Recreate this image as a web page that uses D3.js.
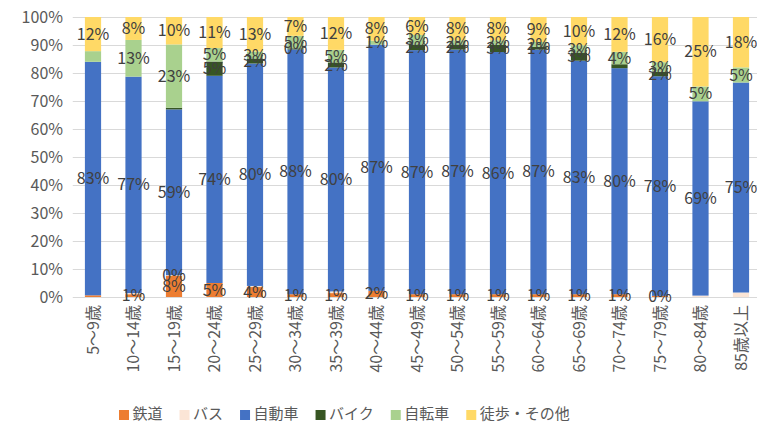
<!DOCTYPE html>
<html>
<head>
<meta charset="utf-8">
<script src="https://cdn.jsdelivr.net/npm/d3@7"></script>
<style>
  body { margin: 0; background: #fff; }
  text { font-family: "Noto Sans CJK JP", sans-serif; }
</style>
</head>
<body>
<div id="chart"></div>
<script>
// age groups
var categories = ["5～9歳", "10～14歳", "15～19歳", "20～24歳", "25～29歳", "30～34歳",
  "35～39歳", "40～44歳", "45～49歳", "50～54歳", "55～59歳", "60～64歳",
  "65～69歳", "70～74歳", "75～79歳", "80～84歳", "85歳以上"];

var seriesNames = ["鉄道", "バス", "自動車", "バイク", "自転車", "徒歩・その他"];

// shares (%)
var rail    = [0.6, 1, 7.6, 5, 3.6, 1, 1.4, 2.2, 1, 1, 1, 1, 1, 1, 0.4, 0, 0];
var bus     = [0, 0.4, 0.2, 0, 0.4, 0, 0.6, 0, 0, 0, 0, 0, 0, 0, 0, 0.5, 1.6];
var car     = [83.4, 77.3, 59.2, 74, 80.4, 88.4, 80.4, 87.3, 87, 87.2, 86.4, 87.2, 83.4, 80.4, 78.2, 69.4, 75];
var bike    = [0, 0, 0.6, 5.1, 1.8, 0.4, 1.8, 0, 2, 1.8, 2.6, 1.0, 2.9, 1.4, 1.6, 0, 0];
var bicycle = [3.8, 13.1, 22.6, 4.8, 2.5, 4.5, 4.5, 1.4, 3.4, 1.5, 1.6, 1.7, 2.6, 4.4, 3.4, 5.3, 5.4];
var walk    = [12.2, 8.2, 9.8, 11.1, 12.5, 6.8, 11.8, 8.4, 6.4, 8.3, 8.3, 8.9, 10.1, 12.4, 16.1, 24.8, 18];

// labels that are not shown in the original
var hiddenLabels = {
  "鉄道": ["5～9歳", "80～84歳", "85歳以上"],
  "バス": categories.filter(function(c) { return c !== "15～19歳"; }),
  "自動車": [],
  "バイク": ["5～9歳", "10～14歳", "15～19歳", "40～44歳", "70～74歳", "80～84歳", "85歳以上"],
  "自転車": ["5～9歳"],
  "徒歩・その他": []
};

var yTicks = [0, 0.1, 0.2, 0.3, 0.4, 0.5, 0.6, 0.7, 0.8, 0.9, 1];

var colors = ["#ED7D31", "#FBE5D6", "#4472C4", "#375623", "#A9D18E", "#FFD966"];

var width = 757, height = 424;
var fontSize = "16px";

// build rows for d3.stack
var table = categories.map(function(c, i) {
  var row = { cat: c };
  row["鉄道"] = rail[i];
  row["バス"] = bus[i];
  row["自動車"] = car[i];
  row["バイク"] = bike[i];
  row["自転車"] = bicycle[i];
  row["徒歩・その他"] = walk[i];
  return row;
});

var stacked = d3.stack()
  .keys(seriesNames)
  .offset(d3.stackOffsetExpand)(table);

var x = d3.scaleBand()
  .domain(categories)
  .range([72.75, 761.25])
  .paddingInner(0.6)
  .paddingOuter(0.3);

var y = d3.scaleLinear()
  .domain([0, 1])
  .range([297, 17]);

var colour = d3.scaleOrdinal().domain(seriesNames).range(colors);

var svg = d3.select("#chart")
  .append("svg")
  .attr("width", width)
  .attr("height", height);

svg.append("rect")
  .attr("width", width)
  .attr("height", height)
  .style("fill", "white");

// Gridlines
svg.selectAll("line.grid")
  .data(yTicks)
  .enter()
  .append("line")
  .attr("class", "grid")
  .attr("x1", x.range()[0])
  .attr("x2", x.range()[1])
  .attr("y1", function(d) { return Math.round(y(d)) + 0.5; })
  .attr("y2", function(d) { return Math.round(y(d)) + 0.5; })
  .style("stroke", "#d9d9d9")
  .style("stroke-width", "1px");

// Y axis labels
svg.selectAll("text.ytick")
  .data(yTicks)
  .enter()
  .append("text")
  .attr("class", "ytick")
  .attr("x", 63)
  .attr("y", function(d) { return y(d); })
  .attr("dy", "0.35em")
  .attr("text-anchor", "end")
  .attr("font-size", fontSize)
  .style("fill", "#595959")
  .text(function(d) { return d3.format(".0%")(d); });

// Bars
var layers = svg.selectAll("g.layer")
  .data(stacked)
  .enter()
  .append("g")
  .attr("class", "layer")
  .style("fill", function(d) { return colour(d.key); });

layers.selectAll("rect")
  .data(function(d) { return d; })
  .enter()
  .append("rect")
  .attr("x", function(d) { return x(d.data.cat); })
  .attr("width", x.bandwidth())
  .attr("y", function(d) { return y(d[1]); })
  .attr("height", function(d) { return y(d[0]) - y(d[1]); });

// Data labels (drawn after all bars)
stacked.forEach(function(layer) {
  var shown = layer.filter(function(d) {
    return hiddenLabels[layer.key].indexOf(d.data.cat) < 0;
  });
  svg.selectAll("text.lbl" + layer.index)
    .data(shown)
    .enter()
    .append("text")
    .attr("class", "lbl" + layer.index)
    .attr("x", function(d) { return x(d.data.cat) + x.bandwidth() / 2; })
    .attr("y", function(d) { return y((d[0] + d[1]) / 2); })
    .attr("dy", "0.35em")
    .attr("text-anchor", "middle")
    .attr("font-size", fontSize)
    .style("fill", "#404040")
    .text(function(d) { return Math.round(d.data[layer.key]) + "%"; });
});

// Category labels, rotated
svg.selectAll("text.xtick")
  .data(categories)
  .enter()
  .append("text")
  .attr("class", "xtick")
  .attr("transform", function(d) {
    return "translate(" + (x(d) + x.bandwidth() / 2) + ",305) rotate(-90)";
  })
  .attr("dy", "0.35em")
  .attr("text-anchor", "end")
  .attr("font-size", fontSize)
  .style("fill", "#595959")
  .text(function(d) { return d; });

// Legend
var legend = svg.append("g").attr("class", "legend");
var lx = 119;
seriesNames.forEach(function(name) {
  legend.append("rect")
    .attr("x", lx)
    .attr("y", 410)
    .attr("width", 10)
    .attr("height", 10)
    .style("fill", colour(name));
  var t = legend.append("text")
    .attr("x", lx + 13.5)
    .attr("y", 414)
    .attr("dy", "0.35em")
    .attr("font-size", "15px")
    .style("fill", "#595959")
    .text(name);
  lx += 13.5 + t.node().getComputedTextLength() + 17;
});
</script>
</body>
</html>
